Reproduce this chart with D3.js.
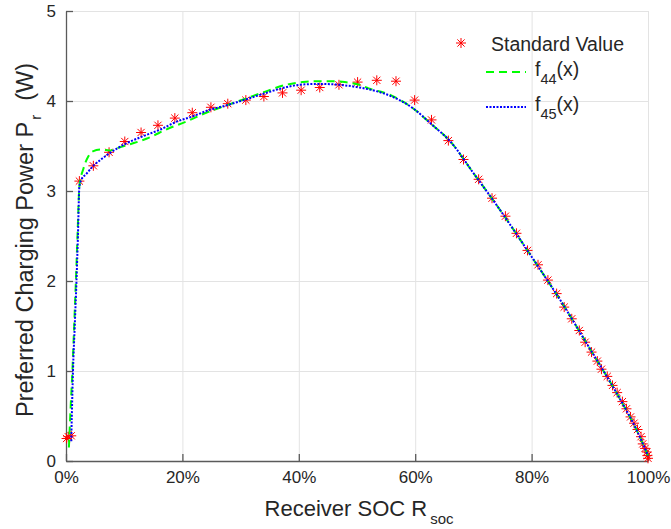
<!DOCTYPE html>
<meta charset="utf-8">
<head>
<title>Preferred charging power</title>
</head>
<style>
body { margin: 0; background: #fff; }
text { font-family: "Liberation Sans", Arial, sans-serif; fill: #262626; }
.grid line { stroke: #e3e3e3; stroke-width: 1; }
.grid path { display: none; }
.axis path, .axis line { stroke: #5a5a5a; stroke-width: 1.3; }
.axis text { font-size: 17px; fill: #262626; }
</style>
<body>
<svg width="671" height="529"></svg>
<script src="https://d3js.org/d3.v7.min.js"></script>
<script>

// measured "standard value" points (SOC in %, power in W)
var socStd = [0.1, 0.4, 0.9, 2.3, 4.7, 7.4, 10.1, 12.9, 15.8, 18.7, 21.7, 24.9, 27.8, 30.9, 34.0, 37.2,
  40.4, 43.6, 46.9, 50.1, 53.4, 56.7, 59.9, 62.8, 65.7, 68.3, 70.9, 73.2, 75.5, 77.4, 79.3, 81.1,
  82.8, 84.3, 85.6, 86.9, 88.2, 89.2, 90.3, 91.3, 92.0, 93.0, 93.9, 94.7, 95.6, 96.3, 97.0, 97.6,
  98.2, 98.8, 99.1, 99.5, 99.8, 99.9, 100.0];
var pStd = [0.25, 0.27, 0.28, 3.11, 3.28, 3.43, 3.55, 3.65, 3.73, 3.81, 3.87, 3.93, 3.97, 4.01, 4.05, 4.09,
  4.12, 4.15, 4.18, 4.21, 4.23, 4.22, 4.01, 3.79, 3.56, 3.35, 3.13, 2.92, 2.72, 2.53, 2.34, 2.18,
  2.01, 1.86, 1.71, 1.58, 1.45, 1.32, 1.21, 1.11, 1.02, 0.94, 0.84, 0.76, 0.66, 0.58, 0.49, 0.42,
  0.35, 0.27, 0.19, 0.14, 0.10, 0.06, 0.03];

// fitted curve f44
var soc44 = [0.5, 0.8, 1.1, 1.4, 1.7, 2.0, 2.3, 3.0, 3.8, 4.6, 6.0, 7.5, 9.0, 11.0, 13.8, 17.8, 20.6,
  24.1, 27.5, 31.0, 34.5, 37.8, 40.7, 43.0, 45.3, 47.9, 50.4, 52.0, 55.6, 59.6, 63.0, 65.9, 70.0,
  75.0, 80.0, 85.0, 90.0, 95.0, 98.0, 100.0];
var p44 = [0.15, 0.6, 1.0, 1.5, 2.0, 2.55, 3.05, 3.25, 3.38, 3.44, 3.46, 3.45, 3.48, 3.52, 3.58, 3.70, 3.77,
  3.87, 3.95, 4.03, 4.11, 4.18, 4.21, 4.22, 4.22, 4.21, 4.18, 4.14, 4.07, 3.92, 3.73, 3.56, 3.20,
  2.75, 2.27, 1.78, 1.25, 0.71, 0.35, 0.06];

// fitted curve f45
var soc45 = [0.9, 1.0, 1.2, 1.5, 1.8, 2.05, 2.3, 2.6, 3.5, 4.7, 6.0, 7.5, 10.4, 13.3, 16.1, 19.0, 21.8,
  24.6, 27.5, 31.0, 34.4, 37.0, 40.1, 43.6, 47.0, 50.4, 53.3, 55.6, 59.6, 63.0, 65.9, 70.0, 75.0,
  80.0, 85.0, 90.0, 95.0, 98.0, 100.0];
var p45 = [0.22, 0.5, 1.0, 1.5, 2.0, 2.5, 3.05, 3.12, 3.19, 3.28, 3.35, 3.42, 3.53, 3.61, 3.68, 3.77, 3.83,
  3.90, 3.95, 4.02, 4.09, 4.14, 4.18, 4.19, 4.18, 4.15, 4.11, 4.06, 3.92, 3.73, 3.56, 3.20, 2.75,
  2.27, 1.78, 1.25, 0.71, 0.35, 0.06];

var xTicks = [0, 20, 40, 60, 80, 100];
var yTicks = [0, 1, 2, 3, 4, 5];

var svg = d3.select('svg');
var mLeft = 66, mRight = 648, mTop = 11, mBottom = 461;

var x = d3.scaleLinear().domain([0, 100]).range([mLeft, mRight]);
var y = d3.scaleLinear().domain([0, 5]).range([mBottom, mTop]);

// grid
svg.append('g').attr('class', 'grid')
  .attr('transform', 'translate(0,' + mBottom + ')')
  .call(d3.axisBottom(x).tickValues(xTicks).tickSize(-(mBottom - mTop)).tickFormat(''));
svg.append('g').attr('class', 'grid')
  .attr('transform', 'translate(' + mLeft + ',0)')
  .call(d3.axisLeft(y).tickValues(yTicks).tickSize(-(mRight - mLeft)).tickFormat(''));

// axes, ticks pointing inwards, no box
svg.append('g').attr('class', 'axis')
  .attr('transform', 'translate(0,' + mBottom + ')')
  .call(d3.axisBottom(x).tickValues(xTicks).tickSizeInner(-7).tickSizeOuter(0).tickPadding(10)
    .tickFormat(function(d) { return d + '%'; }));
svg.append('g').attr('class', 'axis')
  .attr('transform', 'translate(' + mLeft + ',0)')
  .call(d3.axisLeft(y).tickValues(yTicks).tickSizeInner(-7).tickSizeOuter(0).tickPadding(10)
    .tickFormat(d3.format('d')));

// standard value asterisks (+ and x)
var stdData = socStd.map(function(s, i) { return {s: s, p: pStd[i]}; });
var star = 'M-5,0L5,0M0,-5L0,5M-3.6,-3.6L3.6,3.6M-3.6,3.6L3.6,-3.6';
svg.append('g').selectAll('path')
  .data(stdData)
  .enter().append('path')
  .attr('d', star)
  .attr('transform', function(d) { return 'translate(' + x(d.s) + ',' + y(d.p) + ')'; })
  .attr('fill', 'none')
  .attr('stroke', '#ff0000')
  .attr('stroke-width', 1);

var line = d3.line()
  .x(function(d) { return x(d[0]); })
  .y(function(d) { return y(d[1]); })
  .curve(d3.curveMonotoneX);

svg.append('path')
  .datum(soc44.map(function(s, i) { return [s, p44[i]]; }))
  .attr('d', line)
  .attr('fill', 'none')
  .attr('stroke', '#00ff00')
  .attr('stroke-width', 2)
  .attr('stroke-dasharray', '8,5');

svg.append('path')
  .datum(soc45.map(function(s, i) { return [s, p45[i]]; }))
  .attr('d', line)
  .attr('fill', 'none')
  .attr('stroke', '#0000ff')
  .attr('stroke-width', 2)
  .attr('stroke-dasharray', '2,1.5');

// axis labels
var xl = svg.append('text')
  .attr('x', 359).attr('y', 516)
  .attr('text-anchor', 'middle')
  .style('font-size', '22px');
xl.append('tspan').text('Receiver SOC R');
xl.append('tspan').attr('dx', 3).attr('dy', 8).style('font-size', '15px').text('soc');

var yl = svg.append('text')
  .attr('transform', 'translate(33,240) rotate(-90)')
  .attr('text-anchor', 'middle')
  .style('font-size', '23.5px');
yl.append('tspan').text('Preferred Charging Power P');
yl.append('tspan').attr('dx', 2).attr('dy', 8).style('font-size', '15px').text('r');
yl.append('tspan').attr('dx', 14).attr('dy', -8).text('(W)');

// legend
var lg = svg.append('g');
lg.append('path').attr('d', star)
  .attr('transform', 'translate(461,43)')
  .attr('fill', 'none').attr('stroke', '#ff0000').attr('stroke-width', 1);
lg.append('text').attr('x', 491).attr('y', 51).style('font-size', '19.5px').text('Standard Value');

lg.append('line').attr('x1', 486).attr('x2', 526).attr('y1', 72).attr('y2', 72)
  .attr('stroke', '#00ff00').attr('stroke-width', 2).attr('stroke-dasharray', '8,5');
var t44 = lg.append('text').attr('x', 535).attr('y', 76).style('font-size', '19.5px');
t44.append('tspan').text('f');
t44.append('tspan').attr('dy', 8).style('font-size', '14.5px').text('44');
t44.append('tspan').attr('dy', -8).text('(x)');

lg.append('line').attr('x1', 486).attr('x2', 526).attr('y1', 107).attr('y2', 107)
  .attr('stroke', '#0000ff').attr('stroke-width', 2).attr('stroke-dasharray', '2,1.5');
var t45 = lg.append('text').attr('x', 535).attr('y', 111).style('font-size', '19.5px');
t45.append('tspan').text('f');
t45.append('tspan').attr('dy', 8).style('font-size', '14.5px').text('45');
t45.append('tspan').attr('dy', -8).text('(x)');

</script>
</body>
</html>
